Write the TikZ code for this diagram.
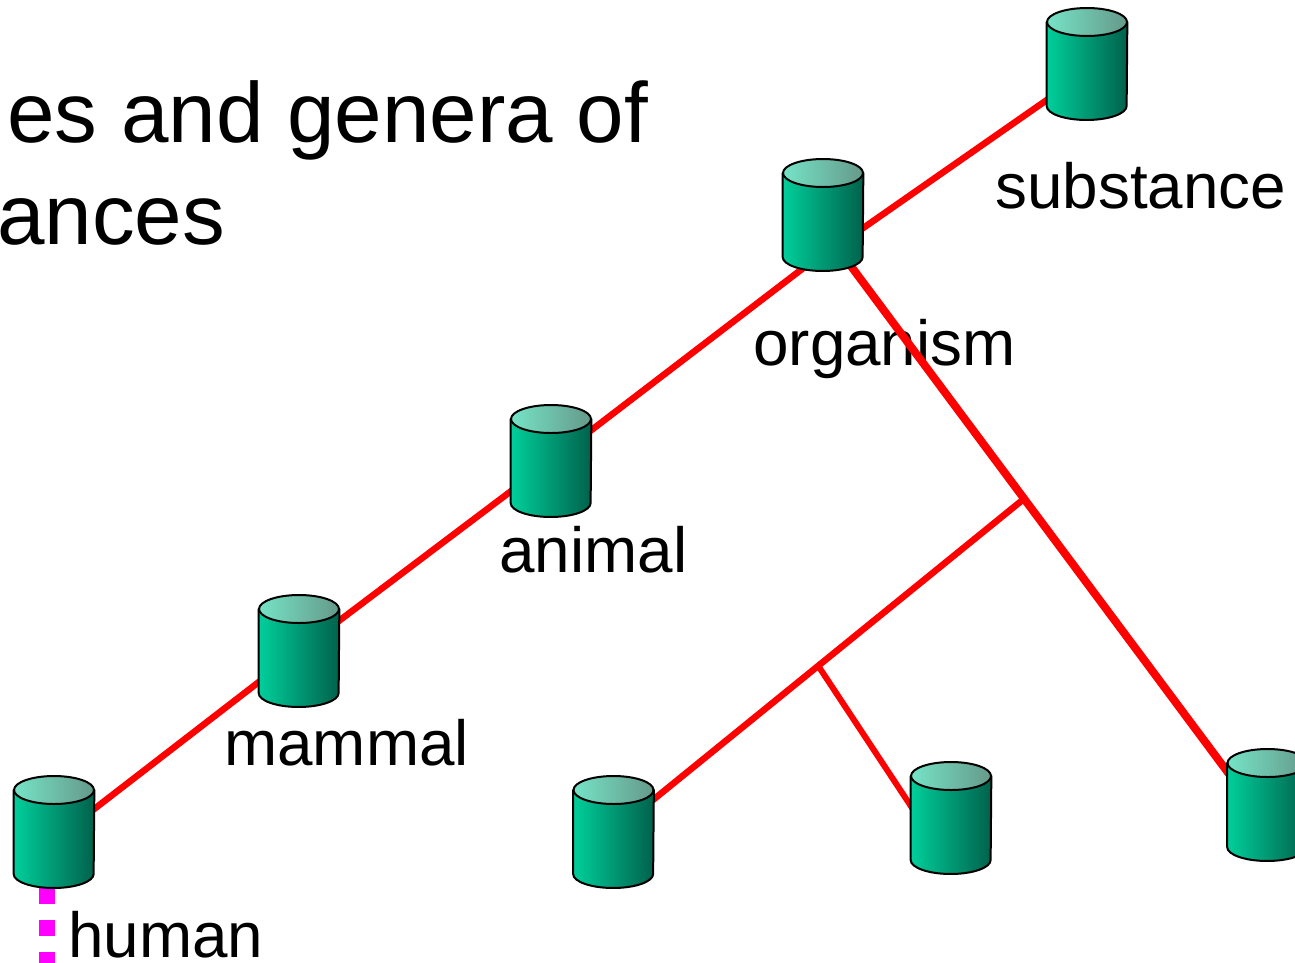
\documentclass[tikz,border=0pt]{standalone}
\usepackage{fontspec}
\setmainfont{Liberation Sans}
\definecolor{cylleft}{HTML}{00CF9B}
\definecolor{cylmid}{HTML}{00AD82}
\definecolor{cylright}{HTML}{00614C}
\definecolor{capleft}{HTML}{75E3C6}
\definecolor{capright}{HTML}{66998A}
\definecolor{dashpink}{HTML}{FF00FF}
\tikzset{
  dbspot/.style={minimum width=1.6cm, minimum height=2.24cm, inner sep=0pt},
  biglabel/.style={anchor=base west, inner sep=0pt, font=\fontsize{36.3}{40}\selectfont},
  titletext/.style={anchor=base west, inner sep=0pt, font=\fontsize{48.6}{54}\selectfont},
  branch/.style={draw=red, line width=0.13cm},
  thinbranch/.style={draw=red, line width=0.12cm},
  trunk/.style={draw=red, line width=0.16cm},
  instanceof/.style={draw=dashpink, line width=0.32cm, dash pattern=on 0.32cm off 0.32cm},
  cylbody/.style={draw=black, line width=0.04cm, line join=round, left color=cylleft, middle color=cylmid, right color=cylright},
  cylcap/.style={draw=black, line width=0.04cm, left color=capleft, right color=capright}
}
\begin{document}
\begin{tikzpicture}[x=0.02cm, y=-0.02cm]
\useasboundingbox (0, 0) rectangle (1295, 963);

% Title and labels
\node[titletext] (titleone) at (7, 143) {es and genera of};
\node[titletext] (titletwo) at (-3, 244) {ances};
\node[biglabel] (substancelabel) at (995, 208) {substance};
\node[biglabel] (organismlabel) at (753, 365) {organism};
\node[biglabel] (animallabel) at (499, 572) {animal};
\node[biglabel] (mammallabel) at (224, 765) {mammal};
\node[biglabel] (humanlabel) at (68, 957) {human};

% Where the cylinders stand
\node[dbspot] (substance) at (1087, 64) {};
\node[dbspot] (organism) at (823, 215) {};
\node[dbspot] (animal) at (551, 461) {};
\node[dbspot] (mammal) at (299, 651) {};
\node[dbspot] (human) at (54, 832) {};
\node[dbspot] (leftleaf) at (613.5, 832) {};
\node[dbspot] (midleaf) at (951, 818) {};
\node[dbspot] (rightleaf) at (1267.5, 805) {};

% Line ends and forks
\coordinate (organismback) at (823, 256);
\coordinate (substanceback) at (1087, 72);
\coordinate (organismfront) at (823, 253);
\coordinate (trunktop) at (830, 238);
\coordinate (rightback) at (1267, 825);
\coordinate (humanback) at (54, 840);
\coordinate (forkone) at (1025, 498);
\coordinate (forktwo) at (817, 664);
\coordinate (midback) at (930, 835);
\coordinate (dashend) at (47, 968);

% Connectors
\draw[branch] (substanceback) -- (organismback);
\draw[branch] (organismfront) -- (animal.center);
\draw[branch] (animal.center) -- (mammal.center);
\draw[branch] (mammal.center) -- (humanback);
\draw[trunk] (trunktop) -- (rightback);
\draw[branch] (forkone) -- (leftleaf.center);
\draw[thinbranch] (forktwo) -- (midback);
\draw[instanceof] (human.south -| dashend) -- (dashend);

% Draw the cylinders on top
\foreach \nm in {substance, organism, animal, mammal, human, leftleaf, midleaf, rightleaf} {
  \draw[cylbody] ([yshift=0.84cm]\nm.west) -- ([yshift=-0.84cm]\nm.west)
    arc[start angle=180, end angle=360, x radius=0.8cm, y radius=0.28cm]
    -- ([yshift=0.84cm]\nm.east) -- cycle;
  \draw[cylcap] ([yshift=0.84cm]\nm.center) ellipse [x radius=0.8cm, y radius=0.28cm];
}
\end{tikzpicture}
\end{document}
